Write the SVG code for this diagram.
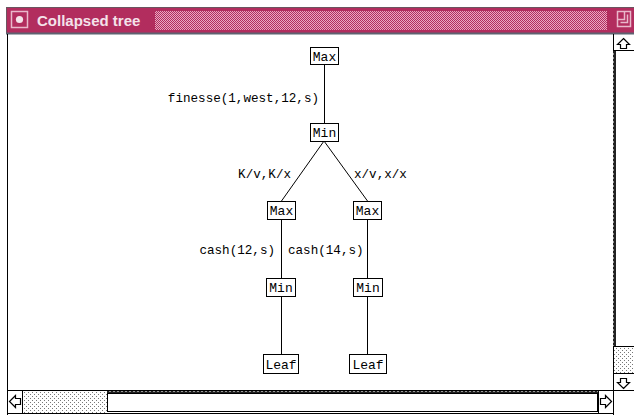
<svg xmlns="http://www.w3.org/2000/svg" width="634" height="415" viewBox="0 0 634 415">
<defs>
<pattern id="titleStip" width="2" height="2" patternUnits="userSpaceOnUse">
<rect width="2" height="2" fill="#e9a9c2"/>
<rect width="1" height="1" fill="#b22d5e"/>
<rect x="1" y="1" width="1" height="1" fill="#b22d5e"/>
</pattern>
<pattern id="thumbStip" width="4" height="4" patternUnits="userSpaceOnUse">
<rect width="4" height="4" fill="#ffffff"/>
<rect width="1" height="1" fill="#777777"/>
<rect x="2" y="2" width="1" height="1" fill="#777777"/>
</pattern>
<pattern id="dashV" width="3" height="4" patternUnits="userSpaceOnUse">
<rect width="3" height="4" fill="#222"/>
<rect x="1" y="1" width="1" height="2" fill="#999"/>
</pattern>
<pattern id="dashH" width="4" height="3" patternUnits="userSpaceOnUse">
<rect width="4" height="3" fill="#222"/>
<rect x="1" y="1" width="2" height="1" fill="#999"/>
</pattern>
</defs>
<style>
.node rect{fill:#ffffff;stroke:#000000;stroke-width:1}
.node text{font-family:"Liberation Mono","DejaVu Sans Mono",monospace;font-size:13px;fill:#000;text-anchor:middle}
.lbl{font-family:"Liberation Mono","DejaVu Sans Mono",monospace;font-size:12.6px;fill:#000}
.edge{stroke:#000;stroke-width:1;fill:none}
.frame{stroke:#000;stroke-width:1;fill:none}
.arrow{fill:#fff;stroke:#000;stroke-width:1.2;stroke-linejoin:miter}
</style>
<rect width="634" height="415" fill="#ffffff"/>
<!-- title bar -->
<g id="titlebar">
<rect x="6" y="7" width="630" height="26" fill="#b22d5e"/>
<line x1="6" y1="7.5" x2="634" y2="7.5" stroke="#6b5560" stroke-width="1"/>
<line x1="6.5" y1="7" x2="6.5" y2="33" stroke="#6b5560" stroke-width="1"/>
<rect x="155" y="11" width="452" height="19" fill="url(#titleStip)"/>
<rect x="11.5" y="11.5" width="16" height="16" fill="none" stroke="#e9b8cb" stroke-width="1.5"/>
<circle cx="19.5" cy="19.5" r="3.6" fill="#f4e4ea"/>
<text x="37" y="26" font-family="'Liberation Sans',Arial,sans-serif" font-weight="bold" font-size="15" fill="#f4e2ea">Collapsed tree</text>
<path d="M617.5 11.5 H630.5 V26.5 H617.5 Z M617.5 19.5 H624.5 V11.5 M620.5 22.5 H627.5 V14.5" fill="none" stroke="#e9b8cb" stroke-width="1.5"/>
<line x1="6" y1="33.5" x2="634" y2="33.5" stroke="#5d6270" stroke-width="2"/>
</g>
<!-- window frame -->
<g id="window">
<line class="frame" x1="7.5" y1="34" x2="7.5" y2="415"/>
<!-- vertical scrollbar -->
<line class="frame" x1="613.5" y1="34" x2="613.5" y2="415"/>
<rect x="613" y="50" width="3" height="296" fill="url(#dashV)"/>
<line class="frame" x1="613" y1="50.5" x2="634" y2="50.5"/>
<path class="arrow" d="M623.5 38.5 L629.5 44.5 L626.5 44.5 L626.5 48.5 L620.5 48.5 L620.5 44.5 L617.5 44.5 Z"/>
<rect x="614" y="346" width="20" height="27" fill="url(#thumbStip)"/>
<line class="frame" x1="613" y1="346.5" x2="634" y2="346.5"/>
<line class="frame" x1="613" y1="373.5" x2="634" y2="373.5"/>
<path class="arrow" d="M623.5 388.5 L629.5 382.5 L626.5 382.5 L626.5 378.5 L620.5 378.5 L620.5 382.5 L617.5 382.5 Z"/>
<!-- horizontal scrollbar -->
<line class="frame" x1="7" y1="390.5" x2="634" y2="390.5"/>
<line class="frame" x1="7" y1="413.5" x2="613" y2="413.5"/>
<line class="frame" x1="22.5" y1="390" x2="22.5" y2="414"/>
<rect x="23" y="391" width="84" height="22" fill="url(#thumbStip)"/>
<rect x="107" y="391" width="491" height="3" fill="url(#dashH)"/>
<rect x="107.5" y="393.5" width="490" height="18" fill="#fff" stroke="#000"/>
<line class="frame" x1="598.5" y1="390" x2="598.5" y2="414"/>
<path class="arrow" d="M9.5 401.5 L15.5 395.5 L15.5 398.5 L20.5 398.5 L20.5 404.5 L15.5 404.5 L15.5 407.5 Z"/>
<path class="arrow" d="M611.5 401.5 L605.5 395.5 L605.5 398.5 L600.5 398.5 L600.5 404.5 L605.5 404.5 L605.5 407.5 Z"/>
</g>
<!-- connectors -->
<g id="connectors">
<line class="edge" x1="324.5" y1="64" x2="324.5" y2="124"/>
<line class="edge" x1="324" y1="141" x2="281.5" y2="201"/>
<line class="edge" x1="324" y1="141" x2="367.5" y2="201"/>
<line class="edge" x1="281.5" y1="219" x2="281.5" y2="278"/>
<line class="edge" x1="367.5" y1="219" x2="367.5" y2="278"/>
<line class="edge" x1="281.5" y1="296" x2="281.5" y2="354"/>
<line class="edge" x1="367.5" y1="296" x2="367.5" y2="354"/>
</g>
<!-- edge labels -->
<g id="labels">
<text class="lbl" x="319" y="101.5" text-anchor="end">finesse(1,west,12,s)</text>
<text class="lbl" x="291" y="177.5" text-anchor="end">K/v,K/x</text>
<text class="lbl" x="354" y="177.5">x/v,x/x</text>
<text class="lbl" x="275" y="253.5" text-anchor="end">cash(12,s)</text>
<text class="lbl" x="288" y="253.5">cash(14,s)</text>
</g>
<!-- nodes -->
<g id="n1" class="node"><rect x="310.5" y="47.5" width="28" height="17"/><text x="324.5" y="60.5">Max</text></g>
<g id="n2" class="node"><rect x="310.5" y="123.5" width="28" height="18"/><text x="324.5" y="137">Min</text></g>
<g id="n3" class="node"><rect x="267.5" y="201.5" width="28" height="18"/><text x="281.5" y="215">Max</text></g>
<g id="n4" class="node"><rect x="353.5" y="201.5" width="28" height="18"/><text x="367.5" y="215">Max</text></g>
<g id="n5" class="node"><rect x="266.5" y="278.5" width="29" height="18"/><text x="281" y="292">Min</text></g>
<g id="n6" class="node"><rect x="353.5" y="278.5" width="29" height="18"/><text x="368" y="292">Min</text></g>
<g id="n7" class="node"><rect x="263.5" y="354.5" width="35" height="19"/><text x="281" y="368.5">Leaf</text></g>
<g id="n8" class="node"><rect x="349.5" y="354.5" width="37" height="19"/><text x="368" y="368.5">Leaf</text></g>
</svg>
